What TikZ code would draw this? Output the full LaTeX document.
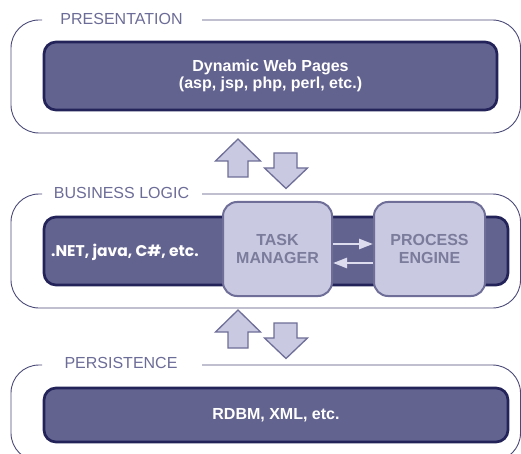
\documentclass[tikz,border=0pt]{standalone}
\usepackage{fontspec}
\setmainfont{Liberation Sans}
\newfontfamily\gothic{Poppins}
\usetikzlibrary{arrows.meta}
\definecolor{contline}{HTML}{4A4A78}
\definecolor{labeltext}{HTML}{6C6C98}
\definecolor{darkfill}{HTML}{636390}
\definecolor{darkborder}{HTML}{23235A}
\definecolor{lightfill}{HTML}{C9C9E1}
\definecolor{lightborder}{HTML}{6E6E98}
\definecolor{lighttext}{HTML}{7B7B9B}
\definecolor{arrowlight}{HTML}{DCDCEE}
\tikzset{
  container/.style={draw=contline, line width=0.9pt, rounded corners=28pt},
  layerlabel/.style={text=labeltext, font=\fontsize{16}{18}\selectfont, inner sep=0pt},
  darkbox/.style={draw=darkborder, fill=darkfill, line width=2.7pt, rounded corners=12pt,
    text=white, font=\fontsize{16}{17}\selectfont\bfseries, align=center, inner sep=0pt},
  lightbox/.style={draw=lightborder, fill=lightfill, line width=2pt, rounded corners=14pt,
    text=lighttext, font=\fontsize{16}{18}\selectfont\bfseries, align=center, inner sep=0pt,
    minimum height=94pt},
  flowarrow/.style={draw=arrowlight, line width=2.6pt, -{Triangle[length=14pt,width=10pt]}},
  blockarrow/.style={draw=lightborder, fill=lightfill, line width=1.3pt, line join=miter},
  blockup/.pic={\path[blockarrow] (0,0) -- (22.5,22) -- (10,22) -- (10,38) -- (-10,38) -- (-10,22) -- (-22.5,22) -- cycle;}
}
\begin{document}
\begin{tikzpicture}[x=1pt,y=-1pt]
\useasboundingbox (0,0) rectangle (521,454);
\clip (0,0) rectangle (521,454);
\fill[white] (0,0) rectangle (521,454);

% containers
\draw[container] (42,20) -- (11,20) -- (11,133) -- (520.5,133) -- (520.5,20) -- (202,20);
\draw[container] (42,194) -- (11,194) -- (11,308) -- (520.5,308) -- (520.5,194) -- (202,194);
\draw[container] (42,365) -- (11,365) -- (11,461) -- (520.5,461) -- (520.5,365) -- (202,365);

% labels
\node[layerlabel] (lpres) at (121.5,19) {PRESENTATION};
\node[layerlabel] (lbus) at (121.5,193) {BUSINESS LOGIC};
\node[layerlabel] (lpers) at (121,363) {PERSISTENCE};

% dark boxes
\node[darkbox, minimum width=453pt, minimum height=68pt] (web) at (270.5,76) {Dynamic Web Pages\\(asp, jsp, php, perl, etc.)};
\node[darkbox, minimum width=464pt, minimum height=68pt] (bus) at (276,251) {};
\node[anchor=west, text=white, inner sep=0pt, font=\gothic\fontsize{15.5}{17}\selectfont\bfseries] (net) at (51,252) {.NET, java, C\#, etc.};
\node[darkbox, minimum width=464pt, minimum height=54pt] (db) at (276,415) {RDBM, XML, etc.};

% light boxes
\node[lightbox, minimum width=109pt] (task) at (277.5,249) {TASK\\MANAGER};
\node[lightbox, minimum width=111pt] (proc) at (429.5,249) {PROCESS\\ENGINE};

\draw[flowarrow] ([yshift=5pt]task.east) -- ([yshift=5pt]proc.west);
\draw[flowarrow] ([yshift=-14pt]proc.west) -- ([yshift=-14pt]task.east);

% block arrows
\pic at (238,139) {blockup};
\path[blockarrow] (274,153) -- (297,153) -- (297,168) -- (307.5,168) -- (286,188.5) -- (264.5,168) -- (274,168) -- cycle;
\pic at (238,310) {blockup};
\path[blockarrow] (274,323) -- (297,323) -- (297,338) -- (307.5,338) -- (286,358.5) -- (264.5,338) -- (274,338) -- cycle;
\end{tikzpicture}
\end{document}
